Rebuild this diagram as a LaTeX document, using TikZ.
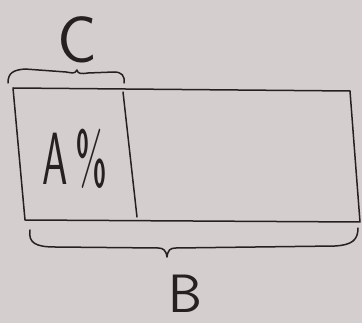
\documentclass[tikz,border=0pt]{standalone}
\usepackage{fontspec}
\definecolor{paper}{RGB}{213,206,207}
\definecolor{ink}{RGB}{38,32,33}
\tikzset{
  pen/.style={draw=ink, line width=1.5pt, line cap=round, line join=round},
  hand/.style={text=ink, inner sep=0pt, font=\sffamily}
}
\begin{document}
\begin{tikzpicture}[x=1pt,y=-1pt]
\fill[paper] (0,0) rectangle (362,323);
\useasboundingbox (0,0) rectangle (362,323);
% rectangle corners
\coordinate (tl) at (13,88);
\coordinate (tr) at (350,91);
\coordinate (br) at (360,222);
\coordinate (bl) at (25,220);
\coordinate (dt) at (123,92);
\coordinate (db) at (137,217);
\draw[pen] (tl) -- (tr) -- (br) -- (bl) -- cycle;
\draw[pen] (dt) -- (db);
% upper brace
\coordinate (ua) at (8,83);
\coordinate (ub) at (124,83);
\draw[pen] (ua) .. controls (8,73) and (13,70) .. (25,69) -- (66,72)
  .. controls (72,73) and (75,74) .. (77,70) .. controls (78,74) and (81,74) .. (88,73)
  -- (114,72) .. controls (122,72) and (125,76) .. (ub);
% lower brace
\coordinate (la) at (30,230);
\coordinate (lb) at (358,228);
\draw[pen] (la) .. controls (28,243) and (36,247) .. (55,247) -- (158,248)
  .. controls (163,248) and (166,250) .. (167,257) .. controls (168,250) and (170,248) .. (176,248)
  -- (335,246) .. controls (352,245) and (358,240) .. (lb);
% labels
\node[hand, font=\sffamily\fontsize{66}{66}\selectfont] (c) at (77,40) {C};
\node[hand, font=\sffamily\fontsize{74}{74}\selectfont, xscale=0.55] (a) at (75,159) {A\,\%};
\node[hand, font=\sffamily\fontsize{54}{54}\selectfont] (b) at (185,294) {B};
\end{tikzpicture}
\end{document}
